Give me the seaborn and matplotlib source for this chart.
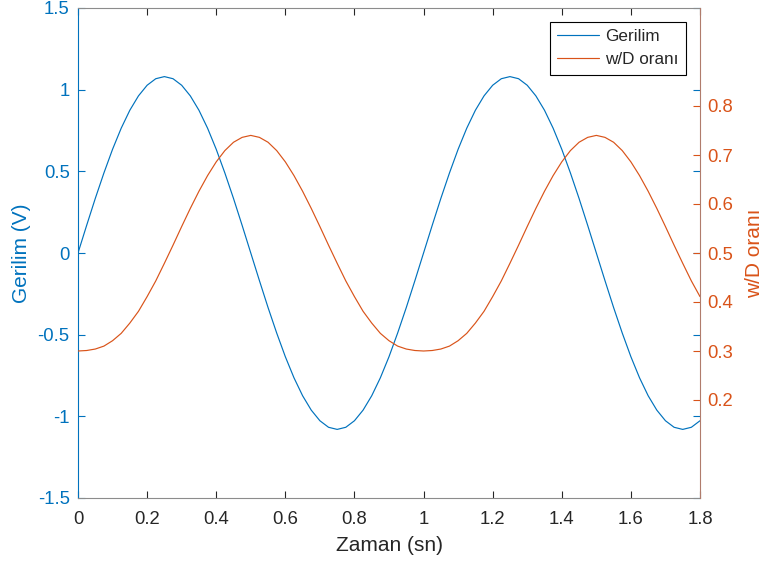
import matplotlib
matplotlib.use('Agg')
import matplotlib.pyplot as plt
import seaborn as sns
import pandas as pd

# ---- data ----
zaman = [0.000, 0.025, 0.050, 0.075, 0.100, 0.125, 0.150, 0.175, 0.200, 0.225,
         0.250, 0.275, 0.300, 0.325, 0.350, 0.375, 0.400, 0.425, 0.450, 0.475,
         0.500, 0.525, 0.550, 0.575, 0.600, 0.625, 0.650, 0.675, 0.700, 0.725,
         0.750, 0.775, 0.800, 0.825, 0.850, 0.875, 0.900, 0.925, 0.950, 0.975,
         1.000, 1.025, 1.050, 1.075, 1.100, 1.125, 1.150, 1.175, 1.200, 1.225,
         1.250, 1.275, 1.300, 1.325, 1.350, 1.375, 1.400, 1.425, 1.450, 1.475,
         1.500, 1.525, 1.550, 1.575, 1.600, 1.625, 1.650, 1.675, 1.700, 1.725,
         1.750, 1.775, 1.800]

gerilim = [0.000, 0.169, 0.334, 0.490, 0.635, 0.764, 0.874, 0.962, 1.027, 1.067,
           1.080, 1.067, 1.027, 0.962, 0.874, 0.764, 0.635, 0.490, 0.334, 0.169,
           0.000, -0.169, -0.334, -0.490, -0.635, -0.764, -0.874, -0.962, -1.027, -1.067,
           -1.080, -1.067, -1.027, -0.962, -0.874, -0.764, -0.635, -0.490, -0.334, -0.169,
           0.000, 0.169, 0.334, 0.490, 0.635, 0.764, 0.874, 0.962, 1.027, 1.067,
           1.080, 1.067, 1.027, 0.962, 0.874, 0.764, 0.635, 0.490, 0.334, 0.169,
           0.000, -0.169, -0.334, -0.490, -0.635, -0.764, -0.874, -0.962, -1.027, -1.067,
           -1.080, -1.067, -1.027]

wd_orani = [0.300, 0.301, 0.304, 0.310, 0.321, 0.336, 0.357, 0.381, 0.411, 0.443,
            0.479, 0.516, 0.554, 0.591, 0.626, 0.658, 0.686, 0.709, 0.726, 0.736,
            0.740, 0.736, 0.726, 0.709, 0.686, 0.658, 0.626, 0.591, 0.554, 0.516,
            0.479, 0.443, 0.411, 0.381, 0.357, 0.336, 0.321, 0.310, 0.304, 0.301,
            0.300, 0.301, 0.304, 0.310, 0.321, 0.336, 0.357, 0.381, 0.411, 0.443,
            0.479, 0.516, 0.554, 0.591, 0.626, 0.658, 0.686, 0.709, 0.726, 0.736,
            0.740, 0.736, 0.726, 0.709, 0.686, 0.658, 0.626, 0.591, 0.554, 0.516,
            0.479, 0.443, 0.411]

x_ticks = [0, 0.2, 0.4, 0.6, 0.8, 1.0, 1.2, 1.4, 1.6, 1.8]
left_ticks = [-1.5, -1.0, -0.5, 0, 0.5, 1.0, 1.5]
right_ticks = [0.2, 0.3, 0.4, 0.5, 0.6, 0.7, 0.8]

series_names = ['Gerilim', 'w/D oranı']

BLUE = '#0072BD'
ORANGE = '#D95319'
DARK = '#262626'
GRAY = '#8c8c8c'
RSPINE = '#b07c6c'

sns.set_style('white')
plt.rcParams['font.family'] = ['Liberation Sans', 'DejaVu Sans']
plt.rcParams['axes.unicode_minus'] = False

df = pd.DataFrame({'Zaman': zaman, 'Gerilim': gerilim, 'wD': wd_orani})

fig = plt.figure(figsize=(7.63, 5.69), dpi=100)
ax = fig.add_axes([78 / 763, 1 - 498 / 569, (700 - 78) / 763, (498 - 8) / 569])

sns.lineplot(data=df, x='Zaman', y='Gerilim', ax=ax, color=BLUE, lw=0.85, legend=False)
ax2 = ax.twinx()
sns.lineplot(data=df, x='Zaman', y='wD', ax=ax2, color=ORANGE, lw=0.85, legend=False)

ax.set_xlim(0, 1.8)
ax.set_ylim(-1.5, 1.5)
ax2.set_ylim(0, 1)

ax.set_xticks(x_ticks)
ax.set_xticklabels(['%g' % v for v in x_ticks])
ax.set_yticks(left_ticks)
ax.set_yticklabels(['%g' % v for v in left_ticks])
ax2.set_yticks(right_ticks)
ax2.set_yticklabels(['%g' % v for v in right_ticks])

TICK_FS = 13.3
ax.tick_params(axis='x', direction='in', length=5, width=0.8, color=DARK,
               labelcolor=DARK, top=True, bottom=True, labelsize=TICK_FS, pad=9)
ax.tick_params(axis='y', direction='in', length=5, width=0.8, color=BLUE,
               labelcolor=BLUE, left=True, right=True, labelsize=TICK_FS, pad=6)
ax2.tick_params(axis='y', direction='in', length=5, width=0.8, color=ORANGE,
                labelcolor=ORANGE, right=True, left=False, labelsize=TICK_FS, pad=5)

for s in ['top', 'bottom']:
    ax.spines[s].set_color(GRAY)
    ax.spines[s].set_linewidth(0.8)
ax.spines['left'].set_color(BLUE)
ax.spines['left'].set_linewidth(0.8)
ax.spines['right'].set_visible(False)
for s in ['left', 'top', 'bottom']:
    ax2.spines[s].set_visible(False)
ax2.spines['right'].set_color(RSPINE)
ax2.spines['right'].set_linewidth(0.8)

LAB_FS = 15
ax.set_xlabel('Zaman (sn)', color=DARK, fontsize=LAB_FS, labelpad=6)
ax.set_ylabel('Gerilim (V)', color=BLUE, fontsize=LAB_FS, labelpad=5)
ax2.set_ylabel('w/D oranı', color=ORANGE, fontsize=LAB_FS, labelpad=9)

handles = [ax.get_lines()[0], ax2.get_lines()[0]]
leg = ax2.legend(handles, series_names, loc='upper right', frameon=True,
                 fancybox=False, edgecolor='black', fontsize=12.3,
                 borderaxespad=0.8, handlelength=2.45, framealpha=1,
                 borderpad=0.45, labelspacing=0.45, handletextpad=0.35)
leg.get_frame().set_linewidth(0.8)

fig.savefig('out.png', dpi=100)
